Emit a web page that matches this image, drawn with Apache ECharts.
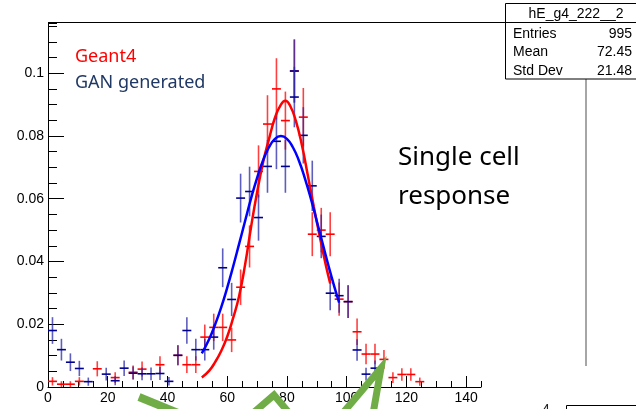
<!DOCTYPE html>
<html>
<head>
<meta charset="utf-8">
<script src="https://cdn.jsdelivr.net/npm/echarts@6/dist/echarts.min.js"></script>
<style>
html,body{margin:0;padding:0;background:#fff;}
#chart{width:636px;height:409px;}
</style>
</head>
<body>
<div id="chart"></div>
<script>
// ---- data ----
const geantX = [1.5,4.5,7.5,10.5,16.5,22.5,28.5,31.5,37.5,43.5,46.5,49.5,52.5,55.5,58.5,61.5,64.5,67.5,70.5,73.5,76.5,79.5,82.5,85.5,88.5,91.5,94.5,97.5,100.5,103.5,106.5,109.5,112.5,115.5,118.5,121.5,124.5];
const geantY = [0.0018,0.0009,0.0009,0.0018,0.0058,0.003,0.0047,0.0057,0.0071,0.0101,0.0071,0.0071,0.0159,0.019,0.019,0.015,0.0318,0.0448,0.0687,0.0838,0.095,0.0849,0.1007,0.086,0.0487,0.050,0.0487,0.028,0.0272,0.0176,0.0105,0.0105,0.0088,0.003,0.004,0.004,0.0017];
const geantErr = [0.00134,0.00095,0.00095,0.00134,0.00241,0.00174,0.00217,0.00239,0.00267,0.00319,0.00267,0.00267,0.0040,0.00437,0.00437,0.00388,0.00565,0.00671,0.00831,0.00918,0.00977,0.00924,0.01006,0.0093,0.0070,0.00709,0.0070,0.0053,0.00523,0.00421,0.00325,0.00325,0.00297,0.00174,0.00201,0.00201,0.00131];

const ganX = [1.5,4.5,7.5,10.5,13.5,19.5,22.5,25.5,28.5,31.5,34.5,37.5,40.5,43.5,46.5,49.5,52.5,55.5,58.5,61.5,64.5,67.5,70.5,73.5,76.5,79.5,82.5,82.5,85.5,88.5,91.5,94.5,97.5,100.5,103.5,106.5,109.5];
const ganY = [0.018,0.0119,0.0079,0.0059,0.0017,0.0041,0.002,0.006,0.0044,0.0042,0.0042,0.0043,0.0018,0.0101,0.018,0.0119,0.0119,0.0159,0.038,0.0279,0.0602,0.0623,0.054,0.0703,0.0783,0.0703,0.1007,0.0924,0.0802,0.0641,0.048,0.0299,0.0291,0.0272,0.0118,0.0041,0.006];
const ganErr = [0.00425,0.00346,0.00282,0.00244,0.00131,0.00203,0.00142,0.00246,0.0021,0.00205,0.00205,0.00208,0.00135,0.00319,0.00425,0.00346,0.00346,0.004,0.00618,0.0053,0.00778,0.00791,0.00737,0.0084,0.00887,0.0084,0.01006,0.00964,0.00898,0.00803,0.00695,0.00548,0.00541,0.00523,0.00344,0.00203,0.00246];

const geantFitX = [51.5,54,56,58,60,62,64,66,68,70,72,74,76,78,79.5,81,83,85,87,89,91,93,94.5];
const geantFitY = [0.0030,0.0052,0.0080,0.0115,0.0160,0.0220,0.0290,0.0390,0.0510,0.0620,0.0715,0.0790,0.0858,0.0900,0.0912,0.0898,0.0848,0.0772,0.0675,0.0575,0.0480,0.0390,0.0330];

const ganFitX = [51.5,54,56,58,60,62,64,66,68,70,72,74,76,78,80,82,84,86,88,90,92,94,96,97.5];
const ganFitY = [0.0107,0.0153,0.0200,0.0254,0.0316,0.0384,0.0456,0.0529,0.0601,0.0666,0.0722,0.0764,0.0791,0.0800,0.0791,0.0764,0.0722,0.0666,0.0601,0.0529,0.0456,0.0384,0.0316,0.0269];

const yTickLabels = ['0','0.02','0.04','0.06','0.08','0.1'];
const xTickLabels = ['0','20','40','60','80','100','120','140'];

const statsTitle = 'hE_g4_222__2';
const statsNames = ['Entries','Mean','Std Dev'];
const statsValues = ['995','72.45','21.48'];
const legendTexts = ['Geant4','GAN generated'];
const noteLines = ['Single cell','response'];

// ---- chart ----
const BIN_HALF = 1.5;
const chart = echarts.init(document.getElementById('chart'), null, {renderer:'canvas'});

function crossSeries(name, xs, ys, errs, hColor, vColor, z) {
  return {
    type: 'custom', name: name, z: z, xAxisIndex: 0, yAxisIndex: 0,
    data: xs.map((x, i) => [x, ys[i], errs[i]]),
    renderItem: function (params, api) {
      const x = api.value(0), y = api.value(1), e = api.value(2);
      const pl = api.coord([x - BIN_HALF, y]);
      const pr = api.coord([x + BIN_HALF, y]);
      const pt = api.coord([x, y + e]);
      const pb = api.coord([x, Math.max(0, y - e)]);
      return {
        type: 'group',
        children: [
          {type: 'line', shape: {x1: pt[0], y1: pt[1], x2: pb[0], y2: pb[1]}, style: {stroke: vColor, lineWidth: 1.6}},
          {type: 'line', shape: {x1: pl[0], y1: pl[1], x2: pr[0], y2: pr[1]}, style: {stroke: hColor, lineWidth: 1.6}}
        ]
      };
    }
  };
}

const axisFont = 'Liberation Sans';
const graphics = [];
// frame top line / stats separator
graphics.push({type:'line', shape:{x1:48, y1:22.5, x2:636, y2:22.5}, style:{stroke:'#000', lineWidth:1}, z:10});
// stats box
graphics.push({type:'rect', shape:{x:505.5, y:3.5, width:140, height:75.5}, style:{fill:'#fff', stroke:'#000', lineWidth:1}, z:11});
graphics.push({type:'line', shape:{x1:505.5, y1:22.5, x2:636, y2:22.5}, style:{stroke:'#000', lineWidth:1}, z:12});
graphics.push({type:'text', x:576, y:14.5, style:{text:statsTitle, font:'14px "Liberation Sans"', fill:'#000', textAlign:'center', textVerticalAlign:'middle'}, z:12});
const rowY = [34.3, 52.5, 70.7];
statsNames.forEach((n, i) => {
  graphics.push({type:'text', x:513, y:rowY[i], style:{text:n, font:'14px "Liberation Sans"', fill:'#000', textAlign:'left', textVerticalAlign:'middle'}, z:12});
  graphics.push({type:'text', x:632, y:rowY[i], style:{text:statsValues[i], font:'14px "Liberation Sans"', fill:'#000', textAlign:'right', textVerticalAlign:'middle'}, z:12});
});
// right gray line
graphics.push({type:'line', shape:{x1:586, y1:79, x2:586, y2:366}, style:{stroke:'#888', lineWidth:1.5}, z:10});
// legend texts
graphics.push({type:'text', x:75, y:57, style:{text:legendTexts[0], font:'18px "Noto Sans"', fill:'#ff0000', textAlign:'left', textVerticalAlign:'middle'}, z:12});
graphics.push({type:'text', x:75, y:83, style:{text:legendTexts[1], font:'18px "Noto Sans"', fill:'#1f3864', textAlign:'left', textVerticalAlign:'middle'}, z:12});
// annotation
graphics.push({type:'text', x:398, y:157.5, style:{text:noteLines[0], font:'26px "Noto Sans"', fill:'#000', textAlign:'left', textVerticalAlign:'middle'}, z:12});
graphics.push({type:'text', x:398, y:196.5, style:{text:noteLines[1], font:'26px "Noto Sans"', fill:'#000', textAlign:'left', textVerticalAlign:'middle'}, z:12});
// green slide arrows
const green = '#70ad47';
graphics.push({type:'polyline', shape:{points:[[139,397],[205,424]]}, style:{stroke:green, lineWidth:8, fill:null}, z:20});
graphics.push({type:'polyline', shape:{points:[[252,414],[274,395],[290,414]]}, style:{stroke:green, lineWidth:7, fill:null, lineJoin:'miter'}, z:20});
graphics.push({type:'polyline', shape:{points:[[342,414],[381,368],[373,414]]}, style:{stroke:green, lineWidth:7, fill:null, lineJoin:'miter'}, z:20});
// bottom right slide bits
graphics.push({type:'text', x:546, y:403, style:{text:'4', font:'14px "Liberation Sans"', fill:'#222', textAlign:'center', textVerticalAlign:'top'}, z:12});
graphics.push({type:'polyline', shape:{points:[[566.5,409],[566.5,405.5],[636,405.5]]}, style:{stroke:'#000', lineWidth:1, fill:null}, z:12});

const option = {
  animation: false,
  backgroundColor: '#fff',
  grid: {left: 48, right: 155, top: 23, bottom: 22, containLabel: false},
  xAxis: [
    {type:'value', min:0, max:145, interval:20, position:'bottom',
     axisLine:{show:true, lineStyle:{color:'#000', width:1}},
     axisTick:{show:true, inside:true, length:11, lineStyle:{color:'#000', width:1}},
     axisLabel:{show:true, showMaxLabel:false, margin:4, fontFamily:axisFont, fontSize:14, color:'#000',
       formatter: v => { const i = Math.round(v/20); return Math.abs(v - i*20) < 1e-9 && i < xTickLabels.length ? xTickLabels[i] : ''; }},
     splitLine:{show:false}},
    {type:'value', min:0, max:145, interval:5, position:'bottom',
     axisLine:{show:false}, axisTick:{show:true, inside:true, length:6, lineStyle:{color:'#000', width:1}},
     axisLabel:{show:false}, splitLine:{show:false}}
  ],
  yAxis: [
    {type:'value', min:0, max:0.116, interval:0.02, position:'left',
     axisLine:{show:true, lineStyle:{color:'#000', width:1}},
     axisTick:{show:true, inside:true, length:16, lineStyle:{color:'#000', width:1}},
     axisLabel:{show:true, showMaxLabel:false, margin:4, fontFamily:axisFont, fontSize:14, color:'#000',
       formatter: v => { const i = Math.round(v/0.02); return Math.abs(v - i*0.02) < 1e-9 && i < yTickLabels.length ? yTickLabels[i] : ''; }},
     splitLine:{show:false}},
    {type:'value', min:0, max:0.116, interval:0.005, position:'left',
     axisLine:{show:false}, axisTick:{show:true, inside:true, length:9, lineStyle:{color:'#000', width:1}},
     axisLabel:{show:false}, splitLine:{show:false}}
  ],
  series: [
    crossSeries('Geant4', geantX, geantY, geantErr, '#ff0000', 'rgba(255,0,0,0.75)', 2),
    crossSeries('GAN generated', ganX, ganY, ganErr, '#000090', 'rgba(40,40,170,0.75)', 3),
    {type:'line', name:'Geant4 fit', z:4, xAxisIndex:0, yAxisIndex:0, data: geantFitX.map((x,i)=>[x, geantFitY[i]]),
     smooth:true, showSymbol:false, symbol:'none', lineStyle:{color:'#ff0000', width:2.5}},
    {type:'line', name:'GAN fit', z:5, xAxisIndex:0, yAxisIndex:0, data: ganFitX.map((x,i)=>[x, ganFitY[i]]),
     smooth:true, showSymbol:false, symbol:'none', lineStyle:{color:'#0000ff', width:2.5}}
  ],
  graphic: graphics
};
chart.setOption(option);
</script>
</body>
</html>
